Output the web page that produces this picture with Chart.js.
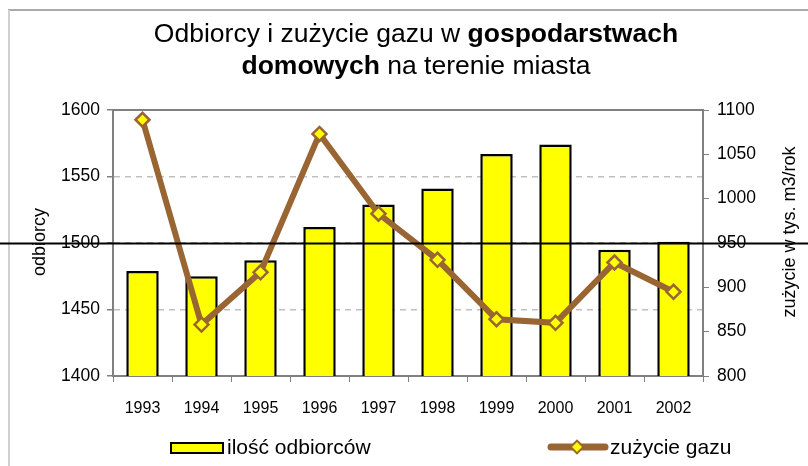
<!DOCTYPE html>
<html lang="pl">
<head>
<meta charset="UTF-8">
<title>Odbiorcy i zużycie gazu</title>
<script src="https://cdn.jsdelivr.net/npm/chart.js"></script>
<style>
    html, body { margin: 0; padding: 0; background: #fff; }
    #wrap { width: 808px; height: 466px; }
</style>
</head>
<body>
<div id="wrap"><canvas id="myChart" width="808" height="466"></canvas></div>
<script>
    // data
    var years = ['1993', '1994', '1995', '1996', '1997', '1998', '1999', '2000', '2001', '2002'];
    var odbiorcy = [1479, 1475, 1487, 1512, 1529, 1541, 1567, 1574, 1495, 1501];
    var zuzycie = [1089, 858, 917, 1073, 983, 931, 864, 860, 928, 895];
    var leftTicks = [1400, 1450, 1500, 1550, 1600];
    var rightTicks = [800, 850, 900, 950, 1000, 1050, 1100];

    var FONT = "'Liberation Sans', Arial, sans-serif";
    var BROWN = '#996633';

    // title, axis titles, legend, frame - drawn by hand
    var extras = {
        id: 'extras',
        afterDraw: function(chart) {
            var c = chart.ctx, a = chart.chartArea, W = chart.width, H = chart.height;
            c.save();

            // outer frame (only top and left visible in the picture)
            c.strokeStyle = '#aaaaaa';
            c.lineWidth = 2;
            c.beginPath(); c.moveTo(8, 10); c.lineTo(W, 10); c.stroke();
            c.strokeStyle = '#d0d0d0';
            c.beginPath(); c.moveTo(9, 10); c.lineTo(9, H); c.stroke();

            // top border of plot area
            c.strokeStyle = '#808080';
            c.beginPath(); c.moveTo(a.left, a.top); c.lineTo(a.right, a.top); c.stroke();

            // title with mixed weights
            c.fillStyle = '#000';
            c.textBaseline = 'middle';
            function mixed(parts, cx, cy) {
                var total = 0;
                parts.forEach(function(p) {
                    c.font = (p[1] ? 'bold ' : '') + '26.5px ' + FONT;
                    p.w = c.measureText(p[0]).width;
                    total += p.w;
                });
                var x = cx - total / 2;
                c.textAlign = 'left';
                parts.forEach(function(p) {
                    c.font = (p[1] ? 'bold ' : '') + '26.5px ' + FONT;
                    c.fillText(p[0], x, cy);
                    x += p.w;
                });
            }
            var cx = (a.left + a.right) / 2 + 8;
            mixed([['Odbiorcy i zużycie gazu w ', false], ['gospodarstwach', true]], cx, 35);
            mixed([['domowych', true], [' na terenie miasta', false]], cx, 67);

            // axis titles, both read bottom to top
            c.font = '18px ' + FONT;
            c.textAlign = 'center';
            c.save(); c.translate(40, 242); c.rotate(-Math.PI / 2); c.fillText('odbiorcy', 0, 0); c.restore();
            c.save(); c.translate(790, 232); c.rotate(-Math.PI / 2); c.fillText('zużycie w tys. m3/rok', 0, 0); c.restore();

            // legend
            var bar = chart.data.datasets[1], line = chart.data.datasets[0];
            c.font = '21px ' + FONT;
            c.textAlign = 'left';
            c.fillStyle = bar.backgroundColor;
            c.fillRect(171, 443, 52, 10);
            c.strokeStyle = bar.borderColor; c.lineWidth = 2;
            c.strokeRect(171, 443, 52, 10);
            c.fillStyle = '#000';
            c.fillText(bar.label, 227, 448);

            c.strokeStyle = line.borderColor; c.lineWidth = 7; c.lineCap = 'round';
            c.beginPath(); c.moveTo(551, 447); c.lineTo(605, 447); c.stroke();
            c.save(); c.translate(577, 447); c.rotate(Math.PI / 4);
            c.fillStyle = line.pointBackgroundColor; c.lineWidth = 2; c.strokeStyle = line.pointBorderColor;
            c.fillRect(-4.5, -4.5, 9, 9); c.strokeRect(-4.5, -4.5, 9, 9);
            c.restore();
            c.fillStyle = '#000';
            c.fillText(line.label, 610, 448);

            // black horizontal rule across the whole picture at 1500
            var yy = Math.round(chart.scales.y.getPixelForValue(1500)) + 0.5;
            c.strokeStyle = '#000'; c.lineWidth = 2; c.lineCap = 'butt';
            c.beginPath(); c.moveTo(0, yy); c.lineTo(W, yy); c.stroke();

            c.restore();
        }
    };

    function plain(v) { return String(v); }

    var ctx = document.getElementById('myChart').getContext('2d');
    var chart = new Chart(ctx, {
        type: 'bar',
        data: {
            labels: years,
            datasets: [{
                type: 'line',
                label: 'zużycie gazu',
                data: zuzycie,
                yAxisID: 'y1',
                borderColor: BROWN,
                borderWidth: 6,
                pointStyle: 'rectRot',
                pointRadius: 7,
                pointBackgroundColor: '#ffff00',
                pointBorderColor: BROWN,
                pointBorderWidth: 2.5,
                tension: 0,
                order: 0
            }, {
                label: 'ilość odbiorców',
                data: odbiorcy,
                yAxisID: 'y',
                backgroundColor: '#ffff00',
                borderColor: '#000000',
                borderWidth: 2.5,
                borderSkipped: false,
                categoryPercentage: 1,
                barPercentage: 0.55,
                order: 1
            }]
        },
        options: {
            responsive: false,
            animation: false,
            layout: { padding: { top: 110, left: 0, right: 0, bottom: 0 } },
            plugins: {
                legend: { display: false },
                tooltip: { enabled: false }
            },
            scales: {
                x: {
                    afterFit: function(s) { s.height = 90; },
                    ticks: { color: '#000', font: { family: FONT, size: 16 }, padding: 17, autoSkip: false, maxRotation: 0 },
                    grid: { drawOnChartArea: false, tickColor: '#808080', tickLength: 6, offset: true },
                    border: { color: '#808080', width: 2 }
                },
                y: {
                    position: 'left',
                    min: leftTicks[0],
                    max: leftTicks[leftTicks.length - 1],
                    afterFit: function(s) { s.width = 113; },
                    afterBuildTicks: function(s) { s.ticks = leftTicks.map(function(v) { return { value: v }; }); },
                    ticks: { color: '#000', font: { family: FONT, size: 17.5 }, padding: 7, callback: plain },
                    grid: {
                        color: function(c) {
                            var v = c.tick && c.tick.value;
                            return (v > leftTicks[0] && v < leftTicks[leftTicks.length - 1]) ? '#c0c0c0' : 'rgba(0,0,0,0)';
                        },
                        lineWidth: 1.5,
                        tickColor: '#808080',
                        tickLength: 6
                    },
                    border: { color: '#808080', width: 2, dash: [6, 5] }
                },
                y1: {
                    position: 'right',
                    min: rightTicks[0],
                    max: rightTicks[rightTicks.length - 1],
                    afterFit: function(s) { s.width = 105; },
                    afterBuildTicks: function(s) { s.ticks = rightTicks.map(function(v) { return { value: v }; }); },
                    ticks: { color: '#000', font: { family: FONT, size: 17.5 }, padding: 8, callback: plain },
                    grid: { drawOnChartArea: false, tickColor: '#808080', tickLength: 6 },
                    border: { color: '#808080', width: 2 }
                }
            }
        },
        plugins: [extras]
    });
</script>
</body>
</html>
